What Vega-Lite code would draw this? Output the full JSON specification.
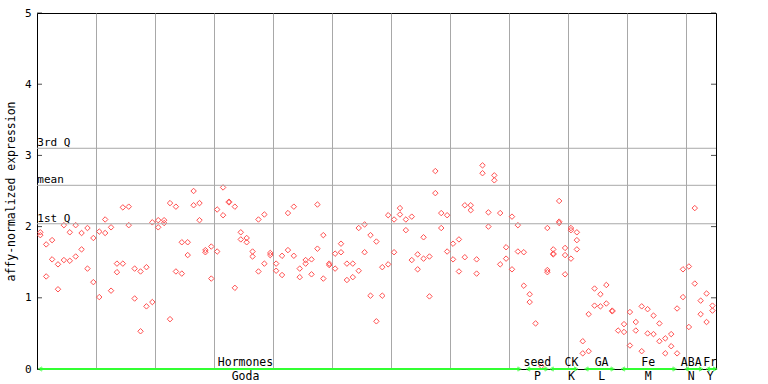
{
  "$schema": "https://vega.github.io/schema/vega-lite/v6.json",
  "width": 679,
  "height": 356,
  "autosize": "none",
  "padding": {"left": 37, "top": 13, "right": 52, "bottom": 15},
  "background": "white",
  "config": {
    "font": "DejaVu Sans Mono",
    "view": {"stroke": "black", "strokeWidth": 1},
    "axis": {"labelFont": "DejaVu Sans Mono", "labelFontSize": 11, "labelColor": "black", "titleFont": "DejaVu Sans Mono", "titleFontSize": 11.5, "titleFontWeight": "normal", "titleColor": "black", "tickColor": "black"}
  },
  "datasets": {
    "pts": [
      {"s":1,"v":1.92},{"s":1,"v":1.88},{"s":2,"v":1.75},{"s":2,"v":1.30},{"s":3,"v":1.81},{"s":3,"v":1.54},{"s":4,"v":1.47},{"s":4,"v":1.12},{"s":5,"v":2.02},{"s":5,"v":1.53},
      {"s":6,"v":1.92},{"s":6,"v":1.52},{"s":7,"v":2.02},{"s":7,"v":1.58},{"s":8,"v":1.91},{"s":8,"v":1.68},{"s":9,"v":1.98},{"s":9,"v":1.41},{"s":10,"v":1.84},{"s":10,"v":1.22},
      {"s":11,"v":1.93},{"s":11,"v":1.01},{"s":12,"v":2.10},{"s":12,"v":1.91},{"s":13,"v":1.99},{"s":13,"v":1.10},{"s":14,"v":1.48},{"s":14,"v":1.36},{"s":15,"v":2.27},{"s":15,"v":1.48},
      {"s":16,"v":2.28},{"s":16,"v":2.02},{"s":17,"v":1.41},{"s":17,"v":0.99},{"s":18,"v":1.37},{"s":18,"v":0.53},{"s":19,"v":1.43},{"s":19,"v":0.88},{"s":20,"v":2.06},{"s":20,"v":0.94},
      {"s":21,"v":2.09},{"s":21,"v":1.99},{"s":22,"v":2.09},{"s":22,"v":2.05},{"s":23,"v":2.33},{"s":23,"v":0.70},{"s":24,"v":2.28},{"s":24,"v":1.37},{"s":25,"v":1.78},{"s":25,"v":1.34},
      {"s":26,"v":1.78},{"s":26,"v":1.60},{"s":27,"v":2.50},{"s":27,"v":2.30},{"s":28,"v":2.33},{"s":28,"v":2.09},{"s":29,"v":1.67},{"s":29,"v":1.64},{"s":30,"v":1.72},{"s":30,"v":1.27},
      {"s":31,"v":2.24},{"s":31,"v":1.65},{"s":32,"v":2.55},{"s":32,"v":2.16},{"s":33,"v":2.35},{"s":33,"v":2.34},{"s":34,"v":2.28},{"s":34,"v":1.14},{"s":35,"v":1.92},{"s":35,"v":1.82},
      {"s":36,"v":1.84},{"s":36,"v":1.78},{"s":37,"v":1.65},{"s":37,"v":1.58},{"s":38,"v":2.10},{"s":38,"v":1.37},{"s":39,"v":2.17},{"s":39,"v":1.48},{"s":40,"v":1.63},{"s":40,"v":1.60},
      {"s":41,"v":1.48},{"s":41,"v":1.38},{"s":42,"v":1.59},{"s":42,"v":1.32},{"s":43,"v":2.19},{"s":43,"v":1.67},{"s":44,"v":2.28},{"s":44,"v":1.59},{"s":45,"v":1.41},{"s":45,"v":1.29},
      {"s":46,"v":1.53},{"s":46,"v":1.48},{"s":47,"v":1.54},{"s":47,"v":1.33},{"s":48,"v":2.31},{"s":48,"v":1.69},{"s":49,"v":1.88},{"s":49,"v":1.27},{"s":50,"v":1.48},{"s":50,"v":1.46},
      {"s":51,"v":1.62},{"s":51,"v":1.41},{"s":52,"v":1.76},{"s":52,"v":1.64},{"s":53,"v":1.48},{"s":53,"v":1.25},{"s":54,"v":1.48},{"s":54,"v":1.29},{"s":55,"v":1.98},{"s":55,"v":1.38},
      {"s":56,"v":2.03},{"s":56,"v":1.64},{"s":57,"v":1.88},{"s":57,"v":1.03},{"s":58,"v":1.79},{"s":58,"v":0.67},{"s":59,"v":1.43},{"s":59,"v":1.03},{"s":60,"v":2.16},{"s":60,"v":1.47},
      {"s":61,"v":2.10},{"s":61,"v":1.64},{"s":62,"v":2.26},{"s":62,"v":2.17},{"s":63,"v":2.10},{"s":63,"v":1.95},{"s":64,"v":2.14},{"s":64,"v":1.53},{"s":65,"v":1.61},{"s":65,"v":1.40},
      {"s":66,"v":1.85},{"s":66,"v":1.55},{"s":67,"v":1.58},{"s":67,"v":1.02},{"s":68,"v":2.78},{"s":68,"v":2.47},{"s":69,"v":2.19},{"s":69,"v":1.98},{"s":70,"v":2.16},{"s":70,"v":1.65},
      {"s":71,"v":1.76},{"s":71,"v":1.54},{"s":72,"v":1.82},{"s":72,"v":1.37},{"s":73,"v":2.30},{"s":73,"v":1.57},{"s":74,"v":2.30},{"s":74,"v":2.23},{"s":75,"v":1.54},{"s":75,"v":1.34},
      {"s":76,"v":2.86},{"s":76,"v":2.75},{"s":77,"v":2.20},{"s":77,"v":2.00},{"s":78,"v":2.72},{"s":78,"v":2.65},{"s":79,"v":2.19},{"s":79,"v":1.47},{"s":80,"v":1.71},{"s":80,"v":1.55},
      {"s":81,"v":2.14},{"s":81,"v":1.40},{"s":82,"v":2.02},{"s":82,"v":1.65},{"s":83,"v":1.64},{"s":83,"v":1.17},{"s":84,"v":1.05},{"s":84,"v":0.94},{"s":85,"v":0.64},{"s":86,"v":0.04},
      {"s":87,"v":1.98},{"s":87,"v":1.39},{"s":87,"v":1.36},{"s":88,"v":1.68},{"s":88,"v":1.61},{"s":88,"v":1.62},{"s":89,"v":2.36},{"s":89,"v":2.07},{"s":89,"v":2.05},
      {"s":90,"v":1.70},{"s":90,"v":1.60},{"s":90,"v":1.33},{"s":91,"v":1.98},{"s":91,"v":1.95},{"s":91,"v":1.55},{"s":92,"v":1.92},{"s":92,"v":1.81},{"s":92,"v":1.68},
      {"s":93,"v":0.39},{"s":93,"v":0.22},{"s":94,"v":0.77},{"s":94,"v":0.25},{"s":95,"v":1.13},{"s":95,"v":0.89},{"s":96,"v":1.05},{"s":96,"v":0.88},{"s":97,"v":1.18},{"s":97,"v":0.92},
      {"s":98,"v":0.81},{"s":98,"v":0.82},{"s":99,"v":0.54},{"s":100,"v":0.63},{"s":100,"v":0.52},{"s":101,"v":0.80},{"s":101,"v":0.33},{"s":102,"v":0.66},{"s":102,"v":0.54},
      {"s":103,"v":0.88},{"s":103,"v":0.25},{"s":104,"v":0.84},{"s":104,"v":0.50},{"s":105,"v":0.75},{"s":105,"v":0.49},{"s":106,"v":0.64},{"s":106,"v":0.39},{"s":107,"v":0.43},{"s":107,"v":0.22},
      {"s":108,"v":0.49},{"s":108,"v":0.32},{"s":109,"v":0.85},{"s":109,"v":0.22},{"s":110,"v":1.40},{"s":110,"v":1.01},{"s":111,"v":1.44},{"s":111,"v":0.59},{"s":112,"v":2.26},{"s":112,"v":1.20},
      {"s":113,"v":0.96},{"s":113,"v":0.77},{"s":114,"v":1.06},{"s":114,"v":0.66},{"s":115,"v":0.89},{"s":115,"v":0.82}
    ],
    "groups": [
      {"top":"Hormones","bottom":"Goda","start":0.95,"end":82.3,"lab":35.8},
      {"top":"seed","bottom":"P","start":83.7,"end":86.9,"lab":85.3},
      {"top":"CK","bottom":"K","start":87.7,"end":91.9,"lab":91.1},
      {"top":"GA","bottom":"L","start":93.6,"end":98.1,"lab":96.2},
      {"top":"Fe","bottom":"M","start":99.8,"end":108.6,"lab":104.1},
      {"top":"ABA","bottom":"N","start":110.6,"end":113.1,"lab":111.4},
      {"top":"Fr","bottom":"Y","start":114.2,"end":115.5,"lab":114.6}
    ],
    "stats": [
      {"name":"3rd Q","v":3.10},
      {"name":"mean","v":2.58},
      {"name":"1st Q","v":2.04}
    ],
    "yt": [{"v":0},{"v":1},{"v":2},{"v":3},{"v":4},{"v":5}]
  },
  "layer": [
    {
      "data": {"name": "pts"},
      "mark": {"type": "point", "shape": "diamond", "size": 30, "filled": false, "stroke": "#ff5050", "strokeWidth": 1, "opacity": 1, "clip": false},
      "encoding": {
        "x": {"field": "s", "type": "quantitative", "scale": {"domain": [0.44, 115.6], "nice": false, "zero": false},
              "axis": {"values": [10.5,20.5,30.5,40.5,50.5,60.5,70.5,80.5,90.5,100.5,110.5], "grid": true, "gridColor": "#a8a8a8", "gridWidth": 1, "gridOpacity": 1, "labels": false, "ticks": false, "domain": false, "title": null}},
        "y": {"field": "v", "type": "quantitative", "scale": {"domain": [0, 5], "nice": false, "zero": true},
              "axis": {"values": [0,1,2,3,4,5], "grid": false, "domain": false, "ticks": false, "labelPadding": 6, "title": "affy-normalized expression", "titlePadding": 8, "format": "d"}}
      }
    },
    {
      "data": {"name": "yt"},
      "mark": {"type": "tick", "orient": "horizontal", "color": "black", "thickness": 1, "size": 5, "xOffset": 2.5},
      "encoding": {
        "x": {"datum": 0.44, "type": "quantitative"},
        "y": {"field": "v", "type": "quantitative"}
      }
    },
    {
      "data": {"name": "yt"},
      "mark": {"type": "tick", "orient": "horizontal", "color": "black", "thickness": 1, "size": 5, "xOffset": -2.5},
      "encoding": {
        "x": {"datum": 115.6, "type": "quantitative"},
        "y": {"field": "v", "type": "quantitative"}
      }
    },
    {
      "data": {"name": "stats"},
      "mark": {"type": "rule", "color": "#a8a8a8", "strokeWidth": 1},
      "encoding": {
        "y": {"field": "v", "type": "quantitative"}
      }
    },
    {
      "data": {"name": "stats"},
      "mark": {"type": "text", "align": "left", "baseline": "alphabetic", "dy": -2, "fontSize": 11, "font": "DejaVu Sans Mono", "color": "black"},
      "encoding": {
        "x": {"datum": 0.5, "type": "quantitative"},
        "y": {"field": "v", "type": "quantitative"},
        "text": {"field": "name"}
      }
    },
    {
      "data": {"name": "groups"},
      "mark": {"type": "rule", "color": "#33ff33", "strokeWidth": 2},
      "encoding": {
        "x": {"field": "start", "type": "quantitative"},
        "x2": {"field": "end"},
        "y": {"datum": 0, "type": "quantitative"}
      }
    },
    {
      "data": {"name": "groups"},
      "mark": {"type": "point", "shape": "triangle-left", "size": 18, "filled": false, "stroke": "#33ff33", "strokeWidth": 1, "clip": false},
      "encoding": {
        "x": {"field": "start", "type": "quantitative"},
        "y": {"datum": 0, "type": "quantitative"}
      }
    },
    {
      "data": {"name": "groups"},
      "mark": {"type": "point", "shape": "triangle-right", "size": 18, "filled": false, "stroke": "#33ff33", "strokeWidth": 1, "clip": false},
      "encoding": {
        "x": {"field": "end", "type": "quantitative"},
        "y": {"datum": 0, "type": "quantitative"}
      }
    },
    {
      "data": {"name": "groups"},
      "mark": {"type": "text", "align": "center", "baseline": "alphabetic", "dy": -3.5, "fontSize": 11.5, "font": "DejaVu Sans Mono", "color": "black"},
      "encoding": {
        "x": {"field": "lab", "type": "quantitative"},
        "y": {"datum": 0, "type": "quantitative"},
        "text": {"field": "top"}
      }
    },
    {
      "data": {"name": "groups"},
      "mark": {"type": "text", "align": "center", "baseline": "alphabetic", "dy": 11, "fontSize": 11.5, "font": "DejaVu Sans Mono", "color": "black"},
      "encoding": {
        "x": {"field": "lab", "type": "quantitative"},
        "y": {"datum": 0, "type": "quantitative"},
        "text": {"field": "bottom"}
      }
    }
  ]
}
